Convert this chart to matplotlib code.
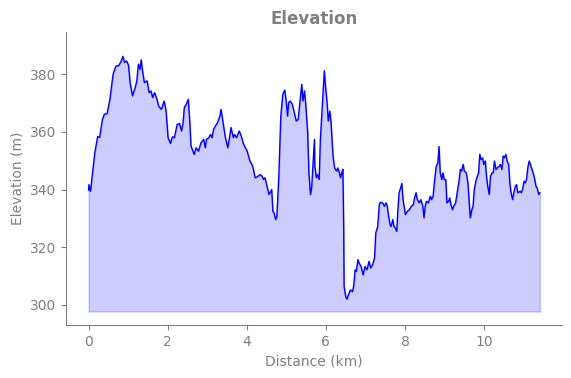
import matplotlib
matplotlib.use("Agg")
import matplotlib.pyplot as plt
import numpy as np

distance_km = [
    0.00, 0.01, 0.05, 0.10, 0.16, 0.23, 0.28, 0.35, 0.40, 0.47, 0.54, 0.62, 0.69, 0.76, 0.81, 0.87,
    0.91, 0.96, 1.01, 1.05, 1.11, 1.18, 1.22, 1.26, 1.30, 1.33, 1.36, 1.41, 1.48, 1.53, 1.58, 1.62,
    1.67, 1.73, 1.77, 1.84, 1.91, 1.96, 2.01, 2.07, 2.12, 2.17,
    2.24, 2.30, 2.35, 2.39, 2.42, 2.47, 2.52, 2.56, 2.59, 2.64, 2.67, 2.72, 2.78, 2.84, 2.91, 2.95,
    2.98, 3.04, 3.08, 3.12, 3.16, 3.23, 3.26, 3.32, 3.35, 3.40, 3.46, 3.52, 3.57, 3.60, 3.66, 3.69,
    3.74, 3.81, 3.86, 3.92, 4.01, 4.08, 4.13, 4.16, 4.21, 4.26, 4.31,
    4.34, 4.39, 4.42, 4.46, 4.51, 4.56, 4.59, 4.63, 4.66, 4.69, 4.73, 4.76, 4.81, 4.86, 4.91, 4.96,
    5.00, 5.03, 5.06, 5.10, 5.15, 5.20, 5.25, 5.30, 5.35, 5.39, 5.42, 5.46, 5.49, 5.54, 5.57, 5.61,
    5.64, 5.67, 5.71, 5.72, 5.76, 5.79, 5.83, 5.86, 5.91, 5.96, 5.99, 6.03, 6.06, 6.10, 6.13, 6.18,
    6.22, 6.27, 6.30, 6.33, 6.37, 6.40, 6.43, 6.45, 6.46,
    6.50, 6.53, 6.57, 6.62, 6.67, 6.70, 6.74, 6.77, 6.81, 6.84, 6.89, 6.94, 6.99, 7.04, 7.09, 7.13,
    7.18, 7.23, 7.26, 7.31, 7.35, 7.38, 7.43, 7.48, 7.52, 7.55, 7.58, 7.62, 7.65, 7.69, 7.72, 7.75,
    7.79, 7.82, 7.85, 7.89, 7.92, 7.95, 8.01, 8.06, 8.11, 8.16, 8.21, 8.24, 8.28, 8.31, 8.36, 8.40,
    8.45, 8.48, 8.51,
    8.54, 8.59, 8.64, 8.67, 8.71, 8.74, 8.79, 8.83, 8.86, 8.89, 8.93, 8.96, 8.99, 9.03, 9.06, 9.10,
    9.13, 9.16, 9.20, 9.23, 9.28, 9.32, 9.37, 9.40, 9.43, 9.47, 9.50, 9.55, 9.59, 9.62, 9.65, 9.69,
    9.72, 9.75, 9.80, 9.86, 9.89, 9.92, 9.96, 9.99, 10.03, 10.06, 10.09, 10.13, 10.16, 10.20, 10.23,
    10.26, 10.30, 10.33, 10.38, 10.41, 10.45, 10.48, 10.51, 10.55, 10.58, 10.62, 10.65, 10.68, 10.72,
    10.75, 10.79, 10.82, 10.85, 10.91, 10.94, 10.97, 11.01, 11.04, 11.07, 11.11, 11.14, 11.17, 11.21,
    11.24, 11.28, 11.31, 11.34, 11.38, 11.41,
]

elevation_m = [
    339.8, 341.7, 339.4, 345.8, 352.9, 358.4, 358.1, 364.3, 366.1, 366.4, 371.3, 380.0, 382.8, 383.0, 384.1, 386.2,
    384.1, 384.6, 383.1, 377.1, 372.5, 375.4, 377.7, 383.5, 381.7, 385.0, 381.7, 377.1, 377.7, 373.6, 374.2, 371.9,
    373.6, 371.3, 369.0, 367.8, 370.7, 367.2, 358.0, 356.0, 358.3, 358.0,
    362.6, 362.9, 360.3, 363.2, 368.4, 369.6, 371.3, 363.2, 355.1, 353.3, 352.2, 354.5, 353.3, 356.2, 357.4, 354.5,
    357.4, 358.0, 359.1, 358.0, 360.9, 362.6, 363.2, 365.5, 367.8, 363.2, 358.0, 354.5, 358.5, 361.5, 358.0, 359.1,
    358.0, 360.3, 358.5, 355.7, 353.3, 349.9, 348.7, 347.5, 344.1, 344.4, 344.9,
    345.2, 344.6, 343.5, 344.1, 341.2, 338.3, 338.9, 340.0, 332.4, 331.9, 329.6, 330.7, 344.6, 365.5, 373.0, 374.5,
    370.2, 365.5, 370.2, 370.7, 369.6, 366.7, 363.8, 364.3, 371.3, 376.5, 370.7, 374.2, 369.6, 359.7, 345.8, 338.3,
    340.6, 348.1, 357.4, 348.1, 344.1, 345.2, 343.5, 357.4, 369.0, 381.2, 375.9, 370.2, 363.8, 367.2, 363.2, 351.6,
    347.5, 346.4, 347.5, 346.4, 344.1, 345.8, 347.0, 326.1, 306.4,
    302.9, 302.0, 303.5, 305.2, 304.6, 306.4, 312.2, 311.6, 315.7, 314.5, 313.3, 310.4, 313.3, 312.2, 315.1, 312.8,
    313.9, 316.3, 324.9, 327.2, 334.8, 335.6, 335.4, 334.2, 335.4, 334.2, 331.3, 327.8, 327.2, 329.6, 327.2, 326.7,
    325.5, 333.0, 338.9, 340.6, 342.1, 336.5, 331.3, 332.5, 333.0, 334.2, 334.8, 337.1, 338.9, 336.5, 335.4, 336.5,
    334.2, 330.2, 334.2,
    335.9, 335.4, 337.7, 336.5, 337.7, 342.3, 348.1, 349.3, 354.9, 345.8, 343.5, 345.8, 343.5, 343.5, 335.4, 335.9,
    337.1, 334.8, 333.0, 334.2, 335.4, 338.9, 343.5, 347.0, 346.4, 348.7, 346.4, 345.8, 342.3, 336.5, 330.2, 333.0,
    334.2, 340.0, 343.5, 345.8, 352.2, 350.4, 351.0, 348.7, 349.9, 344.6, 341.2, 338.3, 344.6, 345.8, 345.8,
    349.9, 347.0, 347.5, 348.1, 348.7, 347.0, 351.6, 351.0, 352.2, 349.9, 348.7, 342.3, 338.9, 336.5,
    338.9, 341.2, 341.7, 338.9, 339.4, 338.9, 340.0, 342.9, 342.3, 343.5, 348.1, 349.9, 348.7, 347.0,
    345.8, 343.5, 341.2, 340.6, 338.3, 338.9,
]

fill_base_m = 297.7
title_text = "Elevation"
x_label = "Distance (km)"
y_label = "Elevation (m)"

dist = np.array(distance_km)
elev = np.array(elevation_m)

gray = "#808080"
fig = plt.figure(figsize=(5.71, 3.78), dpi=100)
ax = fig.add_axes([0.1156, 0.140, 0.8694, 0.775])

ax.fill_between(dist, elev, fill_base_m, color="blue", alpha=0.2)
ax.plot(dist, elev, color="blue", linewidth=1.0)

ax.set_xlim(-0.57, 11.98)
ax.set_ylim(293.0, 394.6)
ax.set_xticks([0, 2, 4, 6, 8, 10])
ax.set_yticks([300, 320, 340, 360, 380])

ax.set_title(title_text, color=gray, fontsize=12, fontweight="bold")
ax.set_xlabel(x_label, color=gray, fontsize=10)
ax.set_ylabel(y_label, color=gray, fontsize=10)

for side in ["top", "right"]:
    ax.spines[side].set_visible(False)
for side in ["left", "bottom"]:
    ax.spines[side].set_color(gray)
ax.tick_params(colors=gray, labelcolor=gray)

fig.savefig("out.png", dpi=100)
